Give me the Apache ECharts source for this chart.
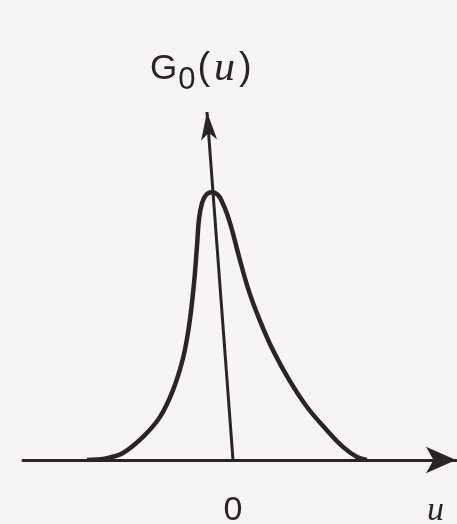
<!DOCTYPE html>
<html>
<head>
    <meta charset="UTF-8">
    <title>G0(u)</title>
</head>
<style>
    html, body { margin: 0; padding: 0; background: #f6f5f3; }
    #chart { width: 457px; height: 524px; }
</style>
<body>
<div id="chart"></div>
<script type="text/javascript" src="https://cdn.jsdelivr.net/npm/echarts@6/dist/echarts.min.js"></script>
<script>
    // curve (u, G0)
    var uVals = [-14.6, -12.6, -11.0, -9.0, -7.3, -6.0, -5.0, -4.4, -3.9, -3.6, -3.4, -3.1, -2.7, -2.1, -1.5, -1.1, -0.6, -0.1, 0.6, 1.6, 2.7, 4.0, 5.6, 7.4, 9.3, 11.0, 12.4, 13.4];
    var gVals = [0, 0.007, 0.026, 0.086, 0.161, 0.261, 0.380, 0.500, 0.660, 0.800, 0.900, 0.960, 0.990, 1.0, 0.990, 0.965, 0.920, 0.860, 0.760, 0.630, 0.520, 0.410, 0.300, 0.198, 0.115, 0.049, 0.011, 0];
    // the vertical axis is drawn slanted in the source
    var tiltAxisStart = [0, 0];
    var tiltAxisEnd = [-2.6, 1.3];
    var xTicks = [0];

    var ink = '#2a2427';
    var curve = [];
    for (var i = 0; i < uVals.length; i++) {
        curve.push([uVals[i], gVals[i]]);
    }

    var chart = echarts.init(document.getElementById('chart'));
    var option = {
        backgroundColor: '#f6f5f3',
        animation: false,
        grid: { left: 23, right: 1, top: 112, bottom: 64, outerBoundsMode: 'none' },
        xAxis: {
            type: 'value',
            min: -21,
            max: 22.3,
            splitLine: { show: false },
            axisTick: { show: false },
            axisLine: {
                show: true,
                onZero: false,
                symbol: ['none', 'arrow'],
                symbolSize: [20, 30],
                lineStyle: { color: ink, width: 3 }
            },
            axisLabel: {
                customValues: xTicks,
                margin: 34,
                color: ink,
                fontFamily: 'Liberation Sans',
                fontSize: 34
            }
        },
        yAxis: {
            type: 'value',
            min: 0,
            max: 1.3,
            show: false
        },
        graphic: [
            {
                type: 'text',
                left: 150,
                top: 48,
                style: {
                    text: '{g|G}{s|0}{p|(}{i|u}{p|)}',
                    rich: {
                        g: { fontFamily: 'Liberation Sans', fontSize: 35, fill: ink },
                        s: { fontFamily: 'Liberation Sans', fontSize: 31, fill: ink, padding: [22, 2, 0, 1] },
                        p: { fontFamily: 'Liberation Sans', fontSize: 38, fill: ink },
                        i: { fontFamily: 'Liberation Serif', fontStyle: 'italic', fontSize: 42, fill: ink, padding: [0, 4, 0, 4] }
                    }
                }
            },
            {
                type: 'text',
                left: 427,
                top: 494,
                style: {
                    text: 'u',
                    fontFamily: 'Liberation Serif',
                    fontStyle: 'italic',
                    fontSize: 34,
                    fill: ink
                }
            }
        ],
        series: [
            {
                type: 'line',
                data: curve,
                smooth: 0.4,
                showSymbol: false,
                silent: true,
                lineStyle: { color: ink, width: 4.5 }
            },
            {
                type: 'line',
                data: [],
                silent: true,
                markLine: {
                    silent: true,
                    symbol: ['none', 'arrow'],
                    symbolSize: [12, 28],
                    label: { show: false },
                    lineStyle: { color: ink, width: 3, type: 'solid' },
                    data: [[{ coord: tiltAxisStart }, { coord: tiltAxisEnd }]]
                }
            }
        ]
    };
    chart.setOption(option);
</script>
</body>
</html>
